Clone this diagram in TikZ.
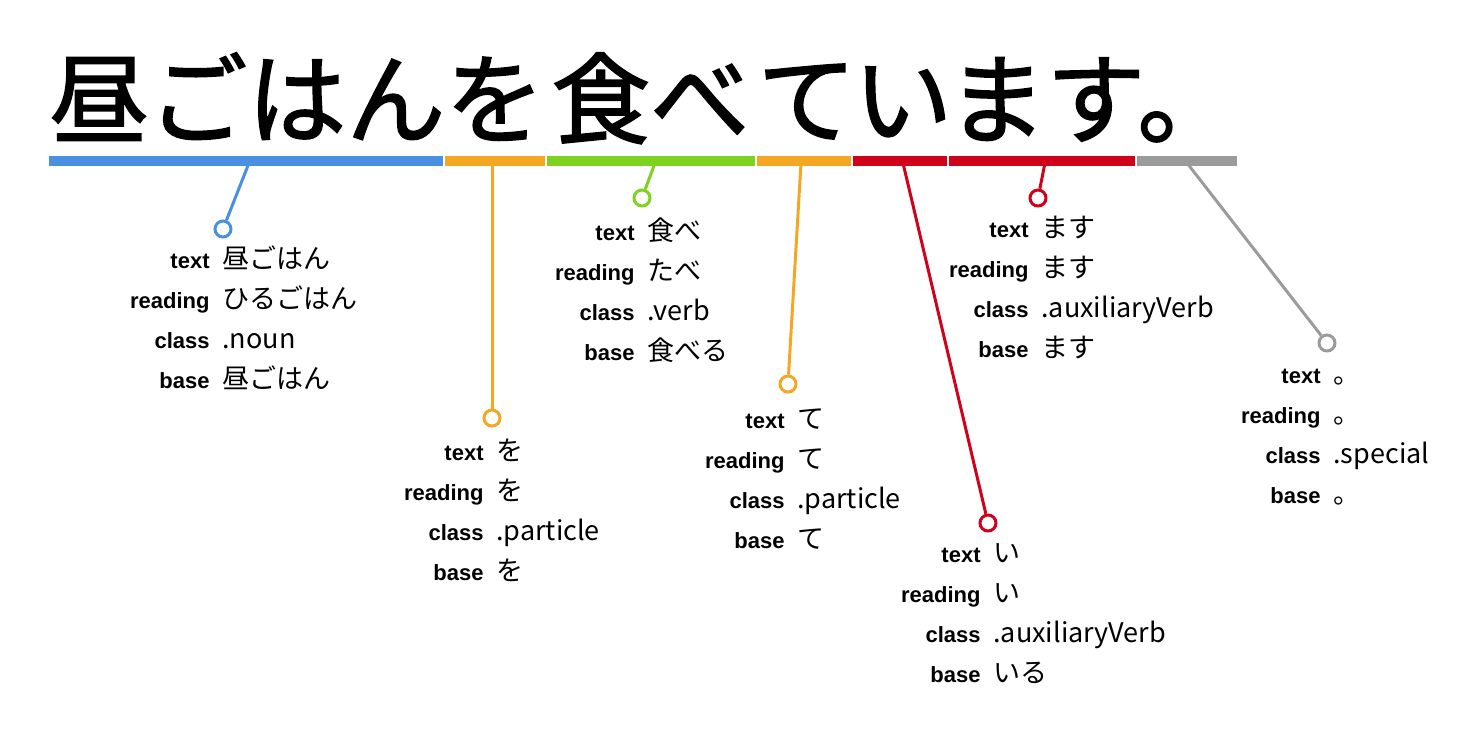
\documentclass[tikz,border=0pt]{standalone}
\usepackage{fontspec}
\setmainfont{Liberation Sans}
\newfontfamily\jp{Noto Sans CJK JP}
\newfontfamily\jptitle{Noto Sans CJK JP}[FakeBold=1.6]
\definecolor{cblue}{HTML}{4A90E2}
\definecolor{corange}{HTML}{F5A623}
\definecolor{cgreen}{HTML}{7ED321}
\definecolor{cred}{HTML}{D0021B}
\definecolor{cgray}{HTML}{9B9B9B}
\tikzset{
  titletxt/.style={anchor=base west, inner sep=0pt, font=\jptitle\fontsize{49.5pt}{56pt}\selectfont},
  ring/.style={circle, draw=#1, fill=white, line width=1.5pt, minimum size=8pt, inner sep=0pt},
  conn/.style={draw=#1, line width=1.5pt},
  lab/.style={anchor=base east, inner sep=0pt, font=\bfseries\fontsize{11pt}{13pt}\selectfont},
  val/.style={anchor=base west, inner sep=0pt, font=\jp\fontsize{13.5pt}{16pt}\selectfont},
}
\newcommand\tokinfo[7]{%
  \node[lab] (#1-l1) at (#2,#3) {text};
  \node[val] (#1-v1) at (#2+12,#3) {#4};
  \node[lab] (#1-l2) at (#2,#3+40) {reading};
  \node[val] (#1-v2) at (#2+12,#3+40) {#5};
  \node[lab] (#1-l3) at (#2,#3+80) {class};
  \node[val] (#1-v3) at (#2+12,#3+80) {#6};
  \node[lab] (#1-l4) at (#2,#3+120) {base};
  \node[val] (#1-v4) at (#2+12,#3+120) {#7};
}
\begin{document}
\begin{tikzpicture}[x=0.5pt, y=-0.5pt]
\useasboundingbox (0,0) rectangle (1484,746);
% title
\node[titletxt] (t1) at (49,136) {昼ごはん};
\node[titletxt] (t2) at (445,136) {を};
\node[titletxt] (t3) at (551,136) {食べ};
\node[titletxt] (t4) at (757,136) {て};
\node[titletxt] (t5) at (853,136) {い};
\node[titletxt] (t6) at (947,136) {ます};
\node[titletxt] (t7) at (1137,136) {。};
% bars
\fill[cblue] (49,156) rectangle (443,165.5);
\fill[corange] (445,156) rectangle (545,165.5);
\fill[cgreen] (547,156) rectangle (755,165.5);
\fill[corange] (757,156) rectangle (851,165.5);
\fill[cred] (853,156) rectangle (947,165.5);
\fill[cred] (949,156) rectangle (1135,165.5);
\fill[cgray] (1137,156) rectangle (1237,165.5);
% connector anchors on bars
\coordinate (p1) at (249,163);
\coordinate (p2) at (492,163);
\coordinate (p3) at (655,163);
\coordinate (p4) at (801,163);
\coordinate (p5) at (903,163);
\coordinate (p6) at (1045,163);
\coordinate (p7) at (1187,163);
% rings
\node[ring=cblue] (r1) at (223,229) {};
\node[ring=corange] (r2) at (492,418) {};
\node[ring=cgreen] (r3) at (642,198) {};
\node[ring=corange] (r4) at (788,384) {};
\node[ring=cred] (r5) at (988,523) {};
\node[ring=cred] (r6) at (1038,198) {};
\node[ring=cgray] (r7) at (1327,343) {};
\draw[conn=cblue] (p1) -- (r1);
\draw[conn=corange] (p2) -- (r2);
\draw[conn=cgreen] (p3) -- (r3);
\draw[conn=corange] (p4) -- (r4);
\draw[conn=cred] (p5) -- (r5);
\draw[conn=cred] (p6) -- (r6);
\draw[conn=cgray] (p7) -- (r7);
% info blocks
\tokinfo{a}{210}{268}{昼ごはん}{ひるごはん}{.noun}{昼ごはん}
\tokinfo{b}{484}{460}{を}{を}{.particle}{を}
\tokinfo{c}{635}{240}{食べ}{たべ}{.verb}{食べる}
\tokinfo{d}{785}{428}{て}{て}{.particle}{て}
\tokinfo{e}{981}{562}{い}{い}{.auxiliaryVerb}{いる}
\tokinfo{f}{1029}{237}{ます}{ます}{.auxiliaryVerb}{ます}
\tokinfo{g}{1321}{383}{。}{。}{.special}{。}
\end{tikzpicture}
\end{document}
